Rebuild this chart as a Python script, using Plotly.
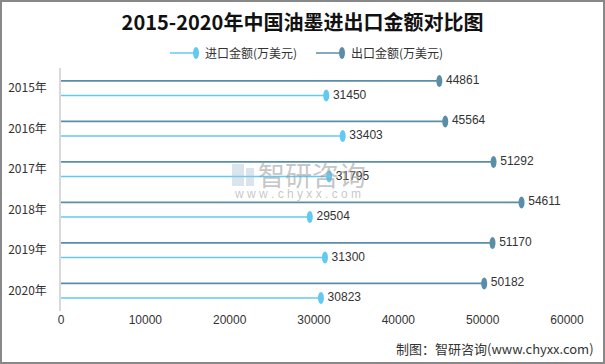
import plotly.graph_objects as go

years = ["2015年", "2016年", "2017年", "2018年", "2019年", "2020年"]
import_vals = [31450, 33403, 31795, 29504, 31300, 30823]
export_vals = [44861, 45564, 51292, 54611, 51170, 50182]
x_ticks = [0, 10000, 20000, 30000, 40000, 50000, 60000]

IMP_COLOR = "#62C9F2"
EXP_COLOR = "#5A8EA8"
OFF = 0.18

PL, PR, PT, PB = 61, 38, 68, 53
W, H = 605, 364
PW, PH = W - PL - PR, H - PT - PB

def px(x):
    return (x - PL) / PW

def py(y):
    return (H - PB - y) / PH

fig = go.Figure()
shapes = []

def add_series(vals, name, color, off, lw):
    xs, ys = [], []
    pos = [i + off for i in range(len(vals))]
    for v, y in zip(vals, pos):
        xs += [0, v, None]
        ys += [y, y, None]
        shapes.append(dict(type="circle", xref="x", yref="y", xsizemode="pixel", ysizemode="pixel",
                           xanchor=v, yanchor=y, x0=-3, x1=3, y0=-6, y1=6,
                           fillcolor=color, line=dict(width=0), layer="above"))
    fig.add_trace(go.Scatter(x=xs, y=ys, mode="lines", name=name, showlegend=False,
                             line=dict(color=color, width=lw), hoverinfo="skip"))
    fig.add_trace(go.Scatter(x=vals, y=pos, mode="text", text=["  " + str(v) for v in vals],
                             textposition="middle right", cliponaxis=False, showlegend=False,
                             textfont=dict(size=12, color="#333333", family="Liberation Sans, Arial"),
                             hoverinfo="skip"))

add_series(import_vals, "进口金额(万美元)", IMP_COLOR, OFF, 1.5)
add_series(export_vals, "出口金额(万美元)", EXP_COLOR, -OFF, 1.8)

annotations = []
# manual legend
legend_items = [("进口金额(万美元)", IMP_COLOR, 170), ("出口金额(万美元)", EXP_COLOR, 316)]
ly = py(53)
for name, color, x0 in legend_items:
    shapes.append(dict(type="line", xref="paper", yref="paper", x0=px(x0), x1=px(x0 + 26), y0=ly, y1=ly,
                       line=dict(color=color, width=1.5)))
    shapes.append(dict(type="circle", xref="paper", yref="paper", xsizemode="pixel", ysizemode="pixel",
                       xanchor=px(x0 + 26), yanchor=ly, x0=-3, x1=3, y0=-6, y1=6,
                       fillcolor=color, line=dict(width=0)))
    annotations.append(dict(text=name, xref="paper", yref="paper", x=px(x0 + 33), y=ly,
                            xanchor="left", yanchor="middle", showarrow=False,
                            font=dict(size=12, color="#333333", family="Noto Sans CJK SC")))

# frame
shapes.append(dict(type="rect", xref="paper", yref="paper", x0=px(1), x1=px(604), y0=py(363), y1=py(1),
                   line=dict(color="#888888", width=2), fillcolor="rgba(0,0,0,0)", layer="below"))

# watermark logo (approximate)
shapes.append(dict(type="rect", xref="paper", yref="paper", x0=px(232), x1=px(244), y0=py(186), y1=py(164),
                   line=dict(width=0), fillcolor="rgba(170,195,215,0.45)"))
shapes.append(dict(type="rect", xref="paper", yref="paper", x0=px(246), x1=px(254), y0=py(186), y1=py(168),
                   line=dict(width=0), fillcolor="rgba(170,195,215,0.45)"))

annotations += [
    dict(text="制图：智研咨询(www.chyxx.com)", xref="paper", yref="paper", x=px(596), y=py(348),
         xanchor="right", yanchor="middle", showarrow=False,
         font=dict(size=13, color="#333333", family="Noto Sans CJK SC")),
    dict(text="智研咨询", xref="paper", yref="paper", x=px(256), y=py(174), xanchor="left", yanchor="middle",
         showarrow=False, font=dict(size=27, color="rgba(160,160,160,0.6)", family="Noto Sans CJK SC")),
    dict(text="w w w . c h y x x . c o m", xref="paper", yref="paper", x=px(232), y=py(194),
         xanchor="left", yanchor="middle", showarrow=False,
         font=dict(size=12, color="rgba(160,160,160,0.6)", family="Liberation Sans")),
]

fig.update_layout(
    width=W, height=H,
    margin=dict(l=PL, r=PR, t=PT, b=PB),
    paper_bgcolor="white", plot_bgcolor="white",
    title=dict(text="<b>2015-2020年中国油墨进出口金额对比图</b>", x=0.5, xanchor="center", y=(H - 23) / H,
               yanchor="middle", font=dict(size=20, color="#111111", family="Noto Sans CJK SC")),
    showlegend=False,
    shapes=shapes,
    annotations=annotations,
    xaxis=dict(range=[0, 60000], tickvals=x_ticks, ticktext=[str(t) for t in x_ticks],
               showgrid=False, zeroline=False, showline=False, ticks="", automargin=False,
               tickfont=dict(size=12, color="#333333", family="Liberation Sans, Arial")),
    yaxis=dict(range=[5.5, -0.5], tickvals=list(range(len(years))), ticktext=years,
               showgrid=False, zeroline=False, showline=True, linecolor="#D9D9D9", linewidth=1.5,
               ticks="", ticklabelstandoff=10, automargin=False,
               tickfont=dict(size=12, color="#333333", family="Noto Sans CJK SC")),
)

fig.write_html("out.html", config={"displayModeBar": False},
               post_script="document.body.style.margin='0';")
